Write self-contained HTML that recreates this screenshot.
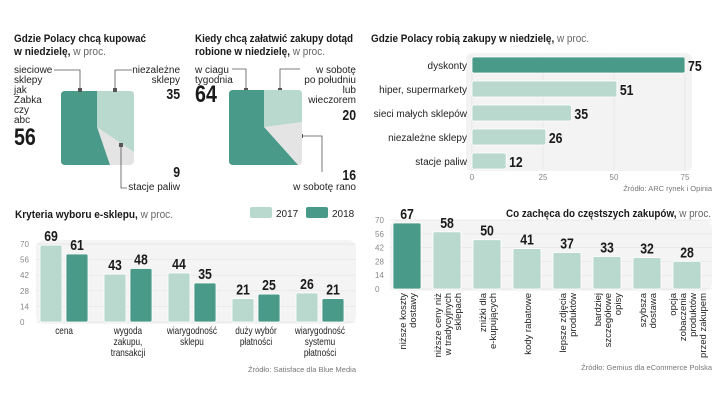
<!DOCTYPE html>
<html><head><meta charset="utf-8">
<style>
html,body{margin:0;padding:0;background:#fff;}
svg{display:block;font-family:"Liberation Sans Narrow","Liberation Sans",sans-serif;}
.t{font-size:11px;font-weight:bold;fill:#1a1a1a}
.tn{font-weight:normal;fill:#666}
.lab{font-size:10px;fill:#222}
.val{font-size:15px;font-weight:bold;fill:#1a1a1a}
.big{font-size:24px;font-weight:bold;fill:#1a1a1a}
.tick{font-size:8px;fill:#888}
.src{font-size:7.5px;fill:#777}
.c{transform-box:fill-box;transform-origin:center;transform:scaleX(.82)}
.cl{transform-box:fill-box;transform-origin:left;transform:scaleX(.82)}
.cr{transform-box:fill-box;transform-origin:right;transform:scaleX(.82)}
</style></head>
<body>
<svg id="s" width="720" height="405" viewBox="0 0 720 405">
<!-- Titles -->
<text class="t" x="14" y="42" textLength="132" lengthAdjust="spacingAndGlyphs">Gdzie Polacy chcą kupować</text>
<text class="t" x="14" y="55" textLength="92" lengthAdjust="spacingAndGlyphs">w niedzielę, <tspan class="tn">w proc.</tspan></text>
<text class="t" x="195" y="42" textLength="158" lengthAdjust="spacingAndGlyphs">Kiedy chcą załatwić zakupy dotąd</text>
<text class="t" x="195" y="55" textLength="130" lengthAdjust="spacingAndGlyphs">robione w niedzielę, <tspan class="tn">w proc.</tspan></text>
<text class="t" x="371" y="42" textLength="218" lengthAdjust="spacingAndGlyphs">Gdzie Polacy robią zakupy w niedzielę, <tspan class="tn">w proc.</tspan></text>
<text class="t" x="15" y="218" textLength="158" lengthAdjust="spacingAndGlyphs">Kryteria wyboru e-sklepu, <tspan class="tn">w proc.</tspan></text>
<text class="t" x="506" y="217" textLength="205" lengthAdjust="spacingAndGlyphs">Co zachęca do częstszych zakupów, <tspan class="tn">w proc.</tspan></text>

<!-- Pie 1 -->
<g>
<rect x="61" y="91" width="73" height="74" rx="4" fill="#e4e4e4"/>
<path d="M61,95 Q61,91 65,91 L97,91 97,127 110,165 65,165 Q61,165 61,161Z" fill="#4a9a89"/>
<path d="M97,91 L130,91 Q134,91 134,95 L134,152 97,127Z" fill="#b9d9ce"/>
</g>
<g stroke="#555" stroke-width="0.8" fill="none">
<polyline points="54,70 80,70 80,90"/>
<polyline points="115,90 115,70 132,70"/>
<polyline points="121,145 121,188 127,188"/>
<polyline points="232,69 246,69 246,90"/>
<polyline points="280,90 280,69 300,69"/>
<polyline points="301,136 322,136 322,172"/>
</g>
<g fill="#555">
<rect x="78" y="88" width="4" height="4"/><rect x="113" y="88" width="4" height="4"/><rect x="119" y="143" width="4" height="4"/>
<rect x="244" y="88" width="4" height="4"/><rect x="278" y="88" width="4" height="4"/><rect x="299" y="134" width="4" height="4"/>
</g>
<g class="lab">
<text x="14" y="73">sieciowe</text><text x="14" y="83">sklepy</text><text x="14" y="93">jak</text><text x="14" y="103">Żabka</text><text x="14" y="113">czy</text><text x="14" y="123">abc</text>
<text x="180" y="73" text-anchor="end">niezależne</text><text x="180" y="83" text-anchor="end">sklepy</text>
<text x="180" y="190" text-anchor="end">stacje paliw</text>
<text x="195" y="73">w ciagu</text><text x="195" y="83">tygodnia</text>
<text x="356" y="73" text-anchor="end">w sobotę</text><text x="356" y="83" text-anchor="end">po południu</text><text x="356" y="93" text-anchor="end">lub</text><text x="356" y="103" text-anchor="end">wieczorem</text>
<text x="356" y="190" text-anchor="end">w sobotę rano</text>
</g>
<text class="big cl" x="14" y="145">56</text>
<text class="val cr" x="180" y="99" text-anchor="end">35</text>
<text class="val cr" x="180" y="177" text-anchor="end">9</text>
<text class="big cl" x="195" y="102">64</text>
<text class="val cr" x="356" y="120" text-anchor="end">20</text>
<text class="val cr" x="356" y="180" text-anchor="end">16</text>
<!-- Pie 2 -->
<g>
<rect x="229" y="90" width="73" height="75" rx="4" fill="#e4e4e4"/>
<path d="M229,94 Q229,90 233,90 L264,90 264,127 298,165 233,165 Q229,165 229,161Z" fill="#4a9a89"/>
<path d="M264,90 L298,90 Q302,90 302,94 L302,122 264,127Z" fill="#b9d9ce"/>
</g>

<g id="c1"></g>
<g id="c2"></g>
<g id="c3"></g>

<text class="src" x="712" y="191" text-anchor="end">Źródło: ARC rynek i Opinia</text>
<text class="src" x="356" y="372" text-anchor="end">Źródło: Satisface dla Blue Media</text>
<text class="src" x="712" y="370" text-anchor="end">Źródło: Gemius dla eCommerce Polska</text>
</svg>
<script>
const NS="http://www.w3.org/2000/svg";
function mk(p,tag,a,txt){const e=document.createElementNS(NS,tag);for(const k in a)e.setAttribute(k,a[k]);if(txt!==undefined)e.textContent=txt;p.appendChild(e);return e;}
const DARK="#4a9a89",LIGHT="#b9d9ce";

// Chart 1
const c1Cats=["dyskonty","hiper, supermarkety","sieci małych sklepów","niezależne sklepy","stacje paliw"];
const c1Vals=[75,51,35,26,12];
const c1Ticks=[0,25,50,75];
// Chart 2
const c2Cats=[["cena"],["wygoda","zakupu,","transakcji"],["wiarygodność","sklepu"],["duży wybór","płatności"],["wiarygodność","systemu","płatności"]];
const c2V17=[69,43,44,21,26];
const c2V18=[61,48,35,25,21];
const c2Ticks=[0,14,28,42,56,70];
// Chart 3
const c3Cats=[["niższe koszty","dostawy"],["niższe ceny niż","w tradycyjnych","sklepach"],["zniżki dla","e-kupujących"],["kody rabatowe"],["lepsze zdjęcia","produktów"],["bardziej","szczegółowe","opisy"],["szybsza","dostawa"],["opcja","zobaczenia","produktów","przed zakupem"]];
const c3Vals=[67,58,50,41,37,33,32,28];
const c3Ticks=[0,14,28,42,56,70];

// chart 1
(function(){
 const g=document.getElementById('c1');
 const x=v=>472+v*213/75, y=i=>65+i*24;
 mk(g,'rect',{x:466,y:53,width:226,height:118,rx:6,fill:"#f3f3f3"});
 c1Ticks.forEach(t=>{mk(g,'line',{x1:x(t),x2:x(t),y1:55,y2:170,stroke:"#e2e2e2","stroke-width":0.7});
  const tl=mk(g,'text',{x:x(t),y:180,"text-anchor":"middle",class:"tick"},t);
  
  });
 c1Cats.forEach((c,i)=>{
  const r=mk(g,'rect',{x:x(0),y:y(i)-8,width:x(c1Vals[i])-x(0),height:16,rx:2,fill:i==0?DARK:LIGHT,stroke:"#fff","stroke-width":0.8});
  
  
  const l=mk(g,'text',{x:467,y:y(i)+4,"text-anchor":"end",class:"lab"},c);
  
  
  const v=mk(g,'text',{x:x(c1Vals[i])+3,y:y(i)+6,class:"val cl"},c1Vals[i]);
  
  
 });
})();

// chart 2
(function(){
 const g=document.getElementById('c2');
 const y=v=>322-v*78/70;
 const cx=i=>64+i*64;
 mk(g,'rect',{x:36,y:240,width:320,height:84,rx:8,fill:"#f4f4f4"});
 c2Ticks.forEach(t=>{mk(g,'line',{x1:36,x2:356,y1:y(t),y2:y(t),stroke:"#e6e6e6","stroke-width":0.7});
  const tl=mk(g,'text',{x:20,y:y(t)+3,class:"tick"},t);
  
  });
 const l1=mk(g,'rect',{x:250,y:207,width:22,height:11,rx:2,fill:LIGHT});
 
 
 mk(g,'text',{x:276,y:217,class:"lab",fill:"#666"},"2017");
 const l2=mk(g,'rect',{x:306,y:207,width:22,height:11,rx:2,fill:DARK});
 
 
 mk(g,'text',{x:332,y:217,class:"lab"},"2018");
 c2Cats.forEach((c,i)=>{
  [[c2V17[i],LIGHT,-24],[c2V18[i],DARK,2]].forEach(([v,col,off])=>{
   const r=mk(g,'rect',{x:cx(i)+off,y:y(v),width:22,height:y(0)-y(v),rx:1.5,fill:col,stroke:"#fff","stroke-width":0.8});
   
   
   const t=mk(g,'text',{x:cx(i)+off+11,y:y(v)-4,"text-anchor":"middle",class:"val c"},v);
   
   
  });
  c.forEach((ln,k)=>{const t=mk(g,'text',{x:cx(i),y:334+k*11,"text-anchor":"middle",class:"lab c"},ln);
   
   });
 });
})();

// chart 3
(function(){
 const g=document.getElementById('c3');
 const y=v=>289-v*69/70;
 const x=i=>393+i*40;
 mk(g,'rect',{x:390,y:220,width:322,height:71,rx:8,fill:"#f4f4f4"});
 c3Ticks.forEach(t=>{mk(g,'line',{x1:390,x2:712,y1:y(t),y2:y(t),stroke:"#e6e6e6","stroke-width":0.7});
  const tl=mk(g,'text',{x:375,y:y(t)+3,class:"tick"},t);
  
  });
 c3Cats.forEach((c,i)=>{
  const v=c3Vals[i];
  const r=mk(g,'rect',{x:x(i),y:y(v),width:28,height:y(0)-y(v),rx:1.5,fill:i==0?DARK:LIGHT,stroke:"#fff","stroke-width":0.8});
  
  
  const t=mk(g,'text',{x:x(i)+14,y:y(v)-4,"text-anchor":"middle",class:"val c"},v);
  
  
  const n=c.length;
  c.forEach((ln,k)=>{const px=x(i)+14+(k-(n-1)/2)*10+4;
   const tt=mk(g,'text',{x:px,y:293,"text-anchor":"end",class:"lab",style:"font-size:9.5px",transform:`rotate(-90 ${px} 293)`},ln);
   
   });
 });
})();
</script>
</body></html>
